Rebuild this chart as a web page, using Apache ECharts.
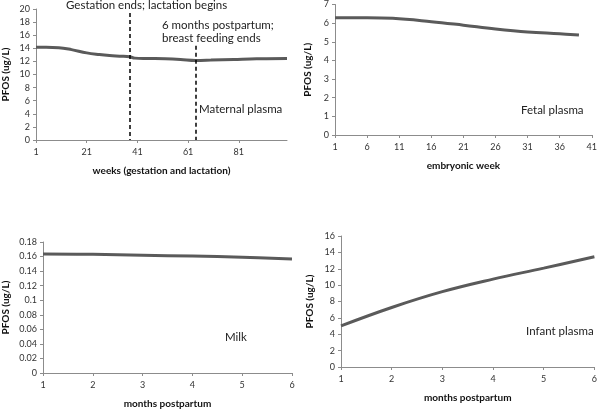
<!DOCTYPE html>
<html><head><meta charset="utf-8">
<script src="https://cdn.jsdelivr.net/npm/echarts@6/dist/echarts.min.js"></script>
<style>html,body{margin:0;padding:0;background:#fff}#c{width:600px;height:410px}</style>
</head><body><div id="c"></div>
<script>
// Maternal plasma (weeks of gestation and lactation)
const maternalWeeks = [1, 5, 10, 15, 21, 26, 30, 34, 38, 40, 45, 52, 58, 64, 70, 79, 88, 100];
const maternalPFOS  = [14.15, 14.15, 14.1, 13.8, 13.3, 13.05, 12.9, 12.8, 12.7, 12.5, 12.45, 12.4, 12.3, 12.15, 12.2, 12.3, 12.4, 12.45];
const maternalTicks = [1, 21, 41, 61, 81];
const eventWeeks = [38, 64];
const eventTops = [19.4, 14.4];

// Fetal plasma (embryonic week)
const fetalWeeks = [1, 6, 10, 16, 21, 26, 31, 36, 39];
const fetalPFOS  = [6.29, 6.29, 6.26, 6.08, 5.89, 5.69, 5.53, 5.43, 5.36];
const fetalTicks = [1, 6, 11, 16, 21, 26, 31, 36, 41];

// Milk (months postpartum)
const milkMonths = [1, 2, 3, 4, 5, 6];
const milkPFOS   = [0.1635, 0.163, 0.1618, 0.1606, 0.1592, 0.1568];

// Infant plasma (months postpartum)
const infantMonths = [1, 2, 3, 4, 5, 6];
const infantPFOS   = [5.02, 7.27, 9.2, 10.73, 12.08, 13.47];

const FONT = 'Lato';
const axisGray = '#8c8c8c';
const lineColor = '#5a5a5a';

function xAxisCfg(gridIndex, min, max, name, custom, interval) {
  const a = {
    type: 'value', gridIndex, min, max,
    name, nameLocation: 'middle', nameGap: 26,
    nameTextStyle: { fontFamily: FONT, fontWeight: 'bold', fontSize: 10, color: '#111' },
    axisLine: { show: true, lineStyle: { color: axisGray, width: 1 } },
    axisTick: { show: true, length: 3, inside: false, lineStyle: { color: axisGray } },
    axisLabel: { fontFamily: FONT, fontSize: 9, color: '#333', margin: 8 },
    splitLine: { show: false }
  };
  if (custom) {
    a.axisLabel.customValues = custom;
    a.axisTick.customValues = custom;
  } else {
    a.interval = interval;
  }
  return a;
}
function yAxisCfg(gridIndex, max, interval, gap) {
  return {
    type: 'value', gridIndex, min: 0, max, interval,
    name: 'PFOS (ug/L)', nameLocation: 'middle', nameGap: gap, nameRotate: 90,
    nameTextStyle: { fontFamily: FONT, fontWeight: 'bold', fontSize: 10, color: '#111' },
    axisLine: { show: true, lineStyle: { color: axisGray, width: 1 } },
    axisTick: { show: true, length: 3, lineStyle: { color: axisGray } },
    axisLabel: { fontFamily: FONT, fontSize: 9, color: '#333', margin: 6 },
    splitLine: { show: false }
  };
}
function pairs(xs, ys) { return xs.map((x, i) => [x, ys[i]]); }

const chart = echarts.init(document.getElementById('c'));
chart.setOption({
  animation: false,
  grid: [
    { left: 35, right: 313, top: 9, bottom: 270 },
    { left: 335, right: 5, top: 3, bottom: 275 },
    { left: 41, right: 308, top: 242, bottom: 37 },
    { left: 341, right: 3, top: 236, bottom: 43 }
  ],
  xAxis: [
    xAxisCfg(0, 1, 100, 'weeks (gestation and lactation)', maternalTicks),
    xAxisCfg(1, 1, 41, 'embryonic week', fetalTicks),
    xAxisCfg(2, 1, 6, 'months postpartum', null, 1),
    xAxisCfg(3, 1, 6, 'months postpartum', null, 1)
  ],
  yAxis: [
    yAxisCfg(0, 20, 2, 25),
    yAxisCfg(1, 7, 1, 22),
    yAxisCfg(2, 0.18, 0.02, 32),
    yAxisCfg(3, 16, 2, 26)
  ],
  series: [
    {
      type: 'line', xAxisIndex: 0, yAxisIndex: 0, smooth: 0.4, showSymbol: false,
      data: pairs(maternalWeeks, maternalPFOS),
      lineStyle: { color: lineColor, width: 3 },
      markLine: {
        silent: true, symbol: 'none', label: { show: false },
        lineStyle: { color: '#000', type: [4, 3], width: 1.5 },
        data: eventWeeks.map((w, i) => [{ coord: [w, eventTops[i]] }, { coord: [w, 0] }])
      }
    },
    { type: 'line', xAxisIndex: 1, yAxisIndex: 1, smooth: 0.4, showSymbol: false,
      data: pairs(fetalWeeks, fetalPFOS), lineStyle: { color: lineColor, width: 3 } },
    { type: 'line', xAxisIndex: 2, yAxisIndex: 2, smooth: 0.4, showSymbol: false,
      data: pairs(milkMonths, milkPFOS), lineStyle: { color: lineColor, width: 3 } },
    { type: 'line', xAxisIndex: 3, yAxisIndex: 3, smooth: 0.4, showSymbol: false,
      data: pairs(infantMonths, infantPFOS), lineStyle: { color: lineColor, width: 3 } }
  ],
  graphic: [
    { type: 'text', left: 66, top: -1, style: { text: 'Gestation ends; lactation begins', font: '11.5px Lato', fill: '#222' } },
    { type: 'text', left: 162, top: 19, style: { text: '6 months postpartum;\nbreast feeding ends', font: '11.5px Lato', fill: '#222', lineHeight: 13 } },
    { type: 'text', left: 199, top: 103, style: { text: 'Maternal plasma', font: '11.5px Lato', fill: '#222' } },
    { type: 'text', left: 521, top: 104, style: { text: 'Fetal plasma', font: '11.5px Lato', fill: '#222' } },
    { type: 'text', left: 225, top: 331, style: { text: 'Milk', font: '11.5px Lato', fill: '#222' } },
    { type: 'text', left: 526, top: 325, style: { text: 'Infant plasma', font: '11.5px Lato', fill: '#222' } }
  ]
});
</script></body></html>
